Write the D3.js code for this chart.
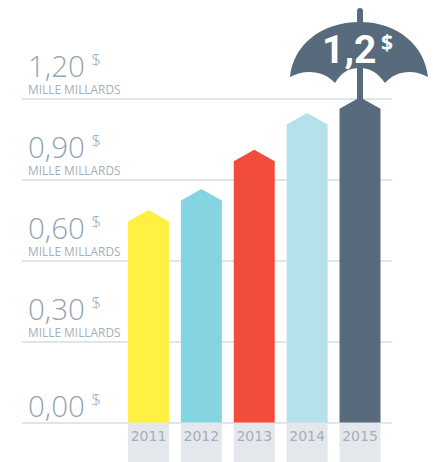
<!DOCTYPE html>
<html>
<head>
<meta charset="utf-8">
<script src="https://cdn.jsdelivr.net/npm/d3@7"></script>
<style>
  html, body { margin: 0; padding: 0; background: #fff; }
  svg { display: block; }
  text { font-family: "Open Sans", sans-serif; }
</style>
</head>
<body>
<svg width="433" height="462"></svg>
<script>
const years = ['2011', '2012', '2013', '2014', '2015'];
const values = [0.787, 0.865, 1.01, 1.146, 1.205];
const barColors = ['#fff042', '#85d4e2', '#f24c3d', '#b5e1ea', '#586b7d'];
const ticks = [0, 0.3, 0.6, 0.9, 1.2];
const tickLabels = ['0,00', '0,30', '0,60', '0,90', '1,20'];
const unitLabel = 'MILLE MILLARDS';
const headline = '1,2';

let svg = d3.select('svg');

let scaleY = d3.scaleLinear().domain([0, 1.2]).range([422.5, 98.5]);
let scaleX = d3.scaleBand().domain(years).range([128, 380.5]).paddingInner(0.225);

// grid lines through the axis
let axis = d3.axisRight(scaleY).tickValues(ticks).tickSize(370).tickFormat('');
let axisG = svg.append('g').attr('transform', 'translate(22,0)').call(axis);
axisG.select('.domain').remove();
axisG.selectAll('line').attr('stroke', '#d5dde5').attr('stroke-width', 1.3);

// grey boxes under the bars
svg.selectAll('.yearBox')
    .data(years)
    .enter()
    .append('rect')
    .attr('x', d => scaleX(d))
    .attr('y', scaleY(0) + 0.5)
    .attr('width', scaleX.bandwidth())
    .attr('height', 462 - scaleY(0))
    .attr('fill', '#e4e8ec');

svg.selectAll('.yearLabel')
    .data(years)
    .enter()
    .append('text')
    .attr('x', d => scaleX(d) + scaleX.bandwidth() / 2)
    .attr('y', 441)
    .attr('text-anchor', 'middle')
    .attr('fill', '#a5afbb')
    .style('font-family', '"DejaVu Sans"')
    .style('font-size', '14px')
    .text(d => d);

// bars with a pointed roof, the value is the tip of the roof
let roof = 11.5;
function barPath(year, value) {
    let x0 = scaleX(year), x1 = x0 + scaleX.bandwidth(), top = scaleY(value), y0 = scaleY(0);
    return `M${x0},${y0}V${top + roof}L${(x0 + x1) / 2},${top}L${x1},${top + roof}V${y0}Z`;
}

svg.selectAll('.bar')
    .data(years)
    .enter()
    .append('path')
    .attr('d', (d, i) => barPath(d, values[i]))
    .attr('fill', (d, i) => barColors[i]);

// y labels, the 0 has no unit line so it sits lower
let labels = svg.selectAll('.tickLabel')
    .data(ticks)
    .enter()
    .append('g')
    .attr('transform', d => `translate(28,${scaleY(d) - (d > 0 ? 21.5 : 6)})`);

labels.append('text')
    .attr('fill', '#95a3b3')
    .style('font-size', '29.5px')
    .style('font-weight', 300)
    .text((d, i) => tickLabels[i]);

labels.append('text')
    .attr('x', 63.5)
    .attr('y', -11)
    .attr('fill', '#95a3b3')
    .style('font-size', '16.5px')
    .style('font-weight', 300)
    .text('$');

labels.filter(d => d > 0).append('text')
    .attr('y', 17)
    .attr('fill', '#a5afbb')
    .style('font-size', '11.9px')
    .text(unitLabel);

// umbrella
let cx = scaleX('2015') + scaleX.bandwidth() / 2;
let umbrella = svg.append('g').attr('fill', '#586b7d');

umbrella.append('path')
    .attr('d', `M${cx - 3},${scaleY(values[4]) + 4}V11a3,3 0 0 1 6,0V${scaleY(values[4]) + 4}Z`);

umbrella.append('path')
    .attr('d', `M290,77
        C293,46 320,22 ${cx},22
        C398,22 425,46 428,77
        C414,69 396,70 385,83
        C378,73 370,68 ${cx},68
        C348,68 341,73 335,83
        C324,70 304,69 290,77Z`);

svg.append('text')
    .attr('x', 322)
    .attr('y', 63)
    .attr('fill', '#fff')
    .style('font-family', 'Roboto')
    .style('font-size', '39px')
    .style('font-weight', 700)
    .text(headline);

svg.append('text')
    .attr('x', 381)
    .attr('y', 50)
    .attr('fill', '#fff')
    .style('font-size', '21px')
    .style('font-weight', 700)
    .text('$');
</script>
</body>
</html>
